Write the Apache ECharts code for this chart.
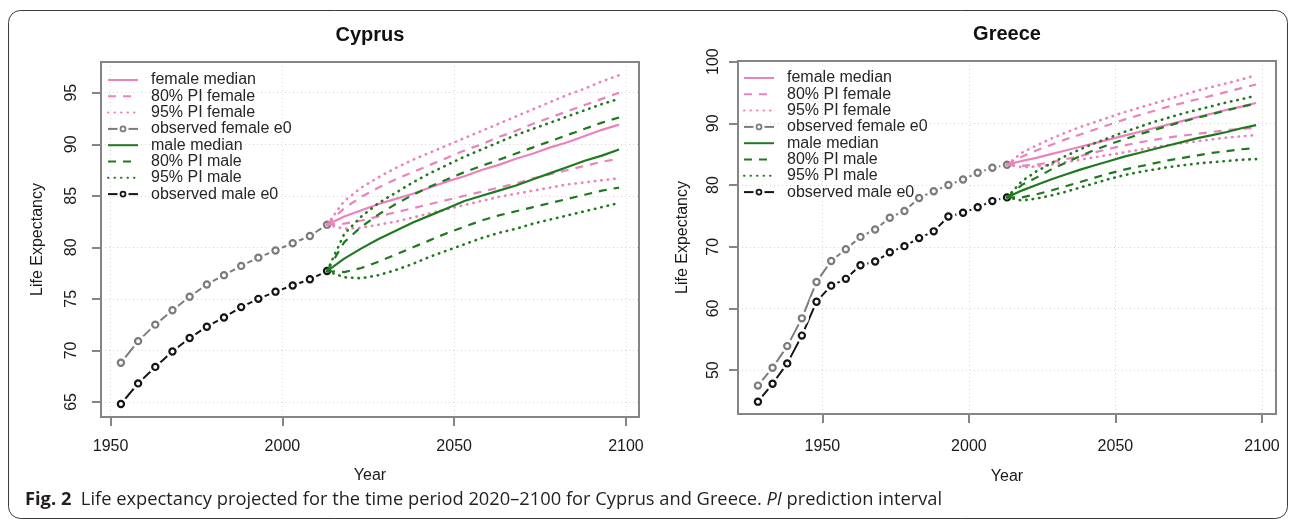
<!DOCTYPE html>
<html>
<head>
<meta charset="utf-8">
<script src="https://cdn.jsdelivr.net/npm/echarts@6/dist/echarts.min.js"></script>
<style>
  html, body { margin: 0; padding: 0; background: #fff; }
  #chart { width: 1296px; height: 524px; }
</style>
</head>
<body>
<div id="chart"></div>
<script>
// ---- data ----
const cyObsYears = [1953, 1958, 1963, 1968, 1973, 1978, 1983, 1988, 1993, 1998, 2003, 2008, 2013];
const grObsYears = [1928, 1933, 1938, 1943, 1948, 1953, 1958, 1963, 1968, 1973, 1978, 1983, 1988, 1993, 1998, 2003, 2008, 2013];
const projYears = [2013, 2018, 2023, 2028, 2033, 2038, 2043, 2048, 2053, 2058, 2063, 2068, 2073, 2078, 2083, 2088, 2093, 2098];

const cyFemObs = [68.8, 70.9, 72.5, 73.9, 75.2, 76.4, 77.3, 78.2, 79.0, 79.7, 80.4, 81.1, 82.2];
const cyMalObs = [64.8, 66.8, 68.4, 69.9, 71.2, 72.3, 73.2, 74.2, 75.0, 75.7, 76.3, 76.9, 77.7];

const cyFemMed  = [82.2, 83.0, 83.6, 84.2, 84.7, 85.2, 85.8, 86.4, 86.9, 87.5, 88.0, 88.6, 89.1, 89.7, 90.2, 90.8, 91.4, 91.9];
const cyFem80Up = [82.2, 83.8, 84.9, 85.8, 86.6, 87.3, 88.0, 88.7, 89.4, 90.0, 90.7, 91.3, 92.0, 92.6, 93.2, 93.8, 94.4, 95.0];
const cyFem80Lo = [82.2, 82.3, 82.6, 83.0, 83.4, 83.8, 84.2, 84.6, 85.0, 85.4, 85.8, 86.2, 86.7, 87.1, 87.5, 87.9, 88.3, 88.6];
const cyFem95Up = [82.2, 84.5, 85.8, 86.8, 87.7, 88.5, 89.2, 89.9, 90.6, 91.3, 92.0, 92.7, 93.4, 94.1, 94.8, 95.4, 96.1, 96.7];
const cyFem95Lo = [82.2, 81.8, 81.9, 82.2, 82.5, 82.9, 83.3, 83.7, 84.1, 84.5, 84.9, 85.2, 85.5, 85.8, 86.1, 86.3, 86.5, 86.7];
const cyMalMed  = [77.7, 78.9, 79.9, 80.8, 81.6, 82.4, 83.1, 83.8, 84.5, 85.0, 85.5, 86.0, 86.6, 87.2, 87.8, 88.4, 88.9, 89.5];
const cyMal80Up = [77.7, 80.5, 82.0, 83.2, 84.2, 85.1, 85.9, 86.6, 87.3, 87.9, 88.5, 89.1, 89.7, 90.3, 90.9, 91.5, 92.1, 92.6];
const cyMal80Lo = [77.7, 77.6, 78.0, 78.6, 79.3, 80.0, 80.7, 81.4, 82.0, 82.6, 83.1, 83.5, 83.9, 84.3, 84.7, 85.1, 85.5, 85.8];
const cyMal95Up = [77.7, 81.3, 83.0, 84.3, 85.3, 86.3, 87.2, 88.0, 88.8, 89.5, 90.2, 90.9, 91.5, 92.1, 92.7, 93.3, 93.9, 94.4];
const cyMal95Lo = [77.7, 77.1, 77.0, 77.3, 77.8, 78.4, 79.1, 79.7, 80.3, 80.9, 81.4, 81.8, 82.3, 82.7, 83.1, 83.5, 83.9, 84.3];

const grFemObs = [47.5, 50.4, 53.9, 58.4, 64.3, 67.7, 69.6, 71.6, 72.8, 74.7, 75.8, 77.9, 79.0, 80.0, 80.9, 82.0, 82.8, 83.3];
const grMalObs = [44.9, 47.8, 51.1, 55.6, 61.1, 63.7, 64.8, 67.0, 67.6, 69.1, 70.1, 71.4, 72.5, 74.9, 75.5, 76.4, 77.4, 78.0];

const grFemMed  = [83.3, 83.9, 84.4, 85.0, 85.6, 86.2, 86.8, 87.4, 88.0, 88.6, 89.2, 89.8, 90.4, 91.0, 91.6, 92.2, 92.7, 93.3];
const grFem80Up = [83.3, 84.6, 85.6, 86.5, 87.4, 88.2, 89.0, 89.8, 90.6, 91.3, 92.0, 92.7, 93.3, 93.9, 94.5, 95.1, 95.7, 96.3];
const grFem80Lo = [83.3, 83.1, 83.3, 83.7, 84.2, 84.7, 85.3, 85.9, 86.4, 86.9, 87.3, 87.7, 88.0, 88.3, 88.6, 88.9, 89.1, 89.3];
const grFem95Up = [83.3, 85.2, 86.4, 87.5, 88.5, 89.4, 90.2, 91.0, 91.8, 92.5, 93.2, 93.9, 94.6, 95.3, 95.9, 96.5, 97.1, 97.8];
const grFem95Lo = [83.3, 82.9, 83.0, 83.3, 83.7, 84.1, 84.5, 84.9, 85.3, 85.7, 86.1, 86.5, 86.8, 87.1, 87.4, 87.7, 87.9, 88.1];
const grMalMed  = [78.0, 79.1, 80.0, 80.9, 81.7, 82.5, 83.2, 83.9, 84.6, 85.2, 85.8, 86.4, 87.0, 87.6, 88.1, 88.6, 89.2, 89.7];
const grMal80Up = [78.0, 80.0, 81.2, 82.5, 83.6, 84.7, 85.7, 86.6, 87.4, 88.2, 88.9, 89.6, 90.3, 90.9, 91.5, 92.1, 92.7, 93.2];
const grMal80Lo = [78.0, 78.0, 78.5, 79.1, 79.8, 80.5, 81.2, 81.9, 82.5, 83.0, 83.5, 84.0, 84.4, 84.8, 85.2, 85.5, 85.8, 86.0];
const grMal95Up = [78.0, 80.6, 82.2, 83.5, 84.7, 85.8, 86.8, 87.7, 88.6, 89.4, 90.2, 90.9, 91.6, 92.2, 92.8, 93.4, 93.9, 94.5];
const grMal95Lo = [78.0, 77.5, 77.8, 78.3, 78.9, 79.6, 80.3, 81.0, 81.6, 82.1, 82.5, 82.9, 83.2, 83.5, 83.7, 83.9, 84.1, 84.2];

const yearTicks = [1950, 2000, 2050, 2100];
const cyLifeTicks = [65, 70, 75, 80, 85, 90, 95];
const grLifeTicks = [50, 60, 70, 80, 90, 100];

const legendNames = ['female median', '80% PI female', '95% PI female', 'observed female e0',
                     'male median', '80% PI male', '95% PI male', 'observed male e0'];

// ---- styles ----
const PINK = '#ec82bc';
const GREEN = '#1f7a1f';
const GREY = '#7b7b7b';
const BLACK = '#141414';
const BOX = '#858585';
const DASH = [8, 7];
const DOT = [0.5, 6];
const FONT = 'Liberation Sans, Arial, sans-serif';

function pair(xs, ys) {
  return xs.map((x, i) => [x, ys[i]]);
}

// white disc with a ring on top: gives R's type="b" look (gap around the points)
function ringSymbol(color) {
  const svg = '<svg xmlns="http://www.w3.org/2000/svg" width="16" height="16">' +
    '<circle cx="8" cy="8" r="7" fill="#ffffff"/>' +
    '<circle cx="8" cy="8" r="3.1" fill="none" stroke="' + color + '" stroke-width="2.2"/></svg>';
  return 'image://data:image/svg+xml;charset=utf-8,' + encodeURIComponent(svg);
}

function obsLine(name, years, values, color, idx) {
  return {
    name: name, type: 'line', xAxisIndex: idx, yAxisIndex: idx,
    data: pair(years, values),
    symbol: ringSymbol(color), symbolSize: 16, showSymbol: true, showAllSymbol: true,
    lineStyle: { color: color, width: 2 },
    itemStyle: { color: color },
    z: 3, silent: true
  };
}

function projLine(name, values, color, dash, idx) {
  return {
    name: name, type: 'line', xAxisIndex: idx, yAxisIndex: idx,
    data: pair(projYears, values),
    symbol: 'none',
    lineStyle: { color: color, width: dash === DOT ? 2.6 : 2.2, type: dash || 'solid', cap: dash === DOT ? 'round' : 'butt' },
    itemStyle: { color: color },
    z: 5, silent: true
  };
}

function panelSeries(idx, d) {
  return [
    projLine('female median', d.femMed, PINK, null, idx),
    projLine('80% PI female', d.fem80Up, PINK, DASH, idx),
    projLine('80% PI female', d.fem80Lo, PINK, DASH, idx),
    projLine('95% PI female', d.fem95Up, PINK, DOT, idx),
    projLine('95% PI female', d.fem95Lo, PINK, DOT, idx),
    obsLine('observed female e0', d.obsYears, d.femObs, GREY, idx),
    projLine('male median', d.malMed, GREEN, null, idx),
    projLine('80% PI male', d.mal80Up, GREEN, DASH, idx),
    projLine('80% PI male', d.mal80Lo, GREEN, DASH, idx),
    projLine('95% PI male', d.mal95Up, GREEN, DOT, idx),
    projLine('95% PI male', d.mal95Lo, GREEN, DOT, idx),
    obsLine('observed male e0', d.obsYears, d.malObs, BLACK, idx)
  ];
}

function xAxisFor(idx, min, max, labelMargin, nameGap) {
  return {
    type: 'value', gridIndex: idx, min: min, max: max, splitNumber: 3,
    name: 'Year', nameLocation: 'middle', nameGap: nameGap,
    nameTextStyle: { fontSize: 16, color: '#1a1a1a', fontFamily: FONT },
    axisLine: { show: false },
    axisTick: { show: true, length: 9, customValues: yearTicks, lineStyle: { color: BOX, width: 2 } },
    axisLabel: {
      customValues: yearTicks, margin: labelMargin, fontSize: 16, color: '#1a1a1a', fontFamily: FONT,
      formatter: v => String(v)
    },
    splitLine: { show: true, lineStyle: { color: '#d6d6d6', width: 1, type: [1, 3] } }
  };
}

function yAxisFor(idx, min, max, ticks, labelMargin, nameGap) {
  return {
    type: 'value', gridIndex: idx, min: min, max: max,
    name: 'Life Expectancy', nameLocation: 'middle', nameRotate: 90, nameGap: nameGap,
    nameTextStyle: { fontSize: 16, color: '#1a1a1a', fontFamily: FONT },
    axisLine: { show: false },
    axisTick: { show: true, length: 9, customValues: ticks, lineStyle: { color: BOX, width: 2 } },
    axisLabel: {
      customValues: ticks, rotate: 90, margin: labelMargin, fontSize: 16, color: '#1a1a1a', fontFamily: FONT,
      formatter: v => String(v)
    },
    splitLine: { show: true, lineStyle: { color: '#d6d6d6', width: 1, type: [1, 3] } }
  };
}

function legendFor(left, top) {
  return {
    orient: 'vertical', left: left, top: top, padding: 0,
    itemWidth: 30, itemHeight: 16, itemGap: 0.3,
    selectedMode: false,
    // hide the circle ECharts puts on line icons; keep it for the observed series
    data: legendNames.map(n => n.indexOf('observed') === 0 ? { name: n } : { name: n, itemStyle: { opacity: 0 } }),
    textStyle: { fontSize: 16, lineHeight: 16, color: '#262626', fontFamily: FONT, padding: [0, 0, 0, 8] }
  };
}

function plotBox(x, y, w, h) {
  return {
    type: 'rect', silent: true, z: 100,
    shape: { x: x, y: y, width: w, height: h },
    style: { fill: 'none', stroke: BOX, lineWidth: 2 }
  };
}

const cyprus = {
  obsYears: cyObsYears, femObs: cyFemObs, malObs: cyMalObs,
  femMed: cyFemMed, fem80Up: cyFem80Up, fem80Lo: cyFem80Lo, fem95Up: cyFem95Up, fem95Lo: cyFem95Lo,
  malMed: cyMalMed, mal80Up: cyMal80Up, mal80Lo: cyMal80Lo, mal95Up: cyMal95Up, mal95Lo: cyMal95Lo
};
const greece = {
  obsYears: grObsYears, femObs: grFemObs, malObs: grMalObs,
  femMed: grFemMed, fem80Up: grFem80Up, fem80Lo: grFem80Lo, fem95Up: grFem95Up, fem95Lo: grFem95Lo,
  malMed: grMalMed, mal80Up: grMal80Up, mal80Lo: grMal80Lo, mal95Up: grMal95Up, mal95Lo: grMal95Lo
};

const chart = echarts.init(document.getElementById('chart'), null, { renderer: 'canvas' });

const option = {
  animation: false,
  backgroundColor: '#ffffff',
  grid: [
    { left: 101, top: 62, width: 538, height: 355, show: false },
    { left: 738, top: 61, width: 538, height: 353, show: false }
  ],
  xAxis: [
    xAxisFor(0, 1947.2, 2103.8, 22, 51),
    xAxisFor(1, 1921.2, 2104.8, 25, 55)
  ],
  yAxis: [
    yAxisFor(0, 63.54, 97.98, cyLifeTicks, 21, 55),
    yAxisFor(1, 42.9, 100.1, grLifeTicks, 16, 47)
  ],
  legend: [legendFor(107, 72), legendFor(743, 70)],
  series: panelSeries(0, cyprus).concat(panelSeries(1, greece)),
  graphic: [
    {
      type: 'rect', silent: true, z: 0,
      shape: { x: 8.5, y: 10.5, width: 1279, height: 508, r: 12 },
      style: { fill: 'none', stroke: '#3a3a3a', lineWidth: 1 }
    },
    plotBox(101, 62, 538, 355),
    plotBox(738, 61, 538, 353),
    {
      type: 'text', x: 370, y: 35, silent: true,
      style: { text: 'Cyprus', align: 'center', verticalAlign: 'middle', fill: '#111', font: 'bold 20px ' + FONT }
    },
    {
      type: 'text', x: 1007, y: 34, silent: true,
      style: { text: 'Greece', align: 'center', verticalAlign: 'middle', fill: '#111', font: 'bold 20px ' + FONT }
    },
    {
      type: 'text', x: 25, y: 500, silent: true,
      style: {
        text: '{b|Fig. 2}  Life expectancy projected for the time period 2020–2100 for Cyprus and Greece. {i|PI} prediction interval',
        verticalAlign: 'middle',
        fill: '#231f20',
        font: '18.3px "Open Sans", sans-serif',
        rich: {
          b: { fontWeight: 'bold', fontSize: 18.3, fontFamily: 'Open Sans', fill: '#231f20' },
          i: { fontStyle: 'italic', fontSize: 18.3, fontFamily: 'Open Sans', fill: '#231f20' }
        }
      }
    }
  ]
};

chart.setOption(option);
</script>
</body>
</html>
